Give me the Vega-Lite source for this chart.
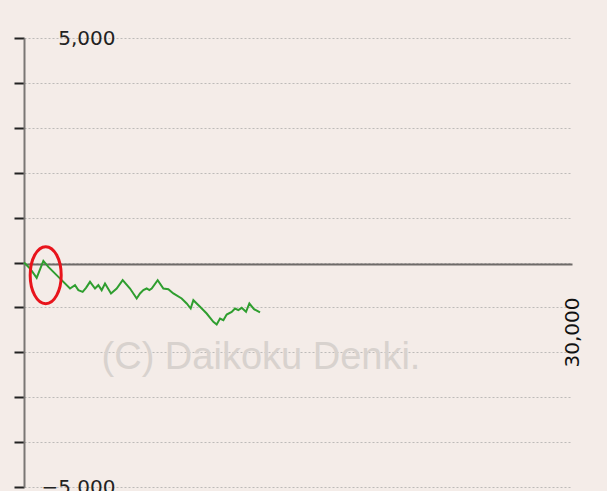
{
  "$schema": "https://vega.github.io/schema/vega-lite/v6.json",
  "autosize": {"type": "none"},
  "padding": {"left": 24, "top": 38, "right": 35, "bottom": 4},
  "width": 548,
  "height": 449,
  "background": "#f4ece8",
  "config": {
    "view": {"stroke": null},
    "font": "DejaVu Sans"
  },
  "datasets": {
    "series": [
      {"game": 0, "diff": 0},
      {"game": 329, "diff": -134},
      {"game": 694, "diff": -342},
      {"game": 1059, "diff": 37},
      {"game": 1332, "diff": -97},
      {"game": 1606, "diff": -208},
      {"game": 2062, "diff": -393},
      {"game": 2519, "diff": -579},
      {"game": 2792, "diff": -505},
      {"game": 2975, "diff": -616},
      {"game": 3212, "diff": -653},
      {"game": 3395, "diff": -564},
      {"game": 3614, "diff": -431},
      {"game": 3887, "diff": -579},
      {"game": 4070, "diff": -505},
      {"game": 4252, "diff": -616},
      {"game": 4435, "diff": -468},
      {"game": 4763, "diff": -690},
      {"game": 5074, "diff": -579},
      {"game": 5402, "diff": -393},
      {"game": 5804, "diff": -579},
      {"game": 6169, "diff": -802},
      {"game": 6351, "diff": -690},
      {"game": 6534, "diff": -616},
      {"game": 6716, "diff": -579},
      {"game": 6862, "diff": -616},
      {"game": 6990, "diff": -579},
      {"game": 7318, "diff": -393},
      {"game": 7629, "diff": -579},
      {"game": 7902, "diff": -594},
      {"game": 8176, "diff": -690},
      {"game": 8632, "diff": -802},
      {"game": 8906, "diff": -913},
      {"game": 9125, "diff": -1025},
      {"game": 9271, "diff": -839},
      {"game": 9636, "diff": -987},
      {"game": 10001, "diff": -1136},
      {"game": 10366, "diff": -1321},
      {"game": 10549, "diff": -1381},
      {"game": 10731, "diff": -1247},
      {"game": 10914, "diff": -1284},
      {"game": 11096, "diff": -1158},
      {"game": 11370, "diff": -1099},
      {"game": 11552, "diff": -1025},
      {"game": 11735, "diff": -1062},
      {"game": 11917, "diff": -1010},
      {"game": 12155, "diff": -1099},
      {"game": 12337, "diff": -913},
      {"game": 12593, "diff": -1039},
      {"game": 12921, "diff": -1113}
    ],
    "watermark": [{"game": 12974, "diff": -2361, "text": "(C) Daikoku Denki."}],
    "highlight": [{"game": 1188, "diff": -283}]
  },
  "encoding": {
    "x": {
      "field": "game",
      "type": "quantitative",
      "scale": {"domain": [0, 30000], "nice": false, "zero": false},
      "axis": {
        "orient": "bottom",
        "offset": -223,
        "values": [30000],
        "format": ",d",
        "title": null,
        "grid": false,
        "ticks": false,
        "domain": true,
        "domainColor": "#6e6a68",
        "domainWidth": 2,
        "labelAngle": 270,
        "labelAlign": "right",
        "labelBaseline": "middle",
        "labelPadding": 33,
        "labelFontSize": 20,
        "labelColor": "#111111",
        "labelFont": "DejaVu Sans"
      }
    },
    "y": {
      "field": "diff",
      "type": "quantitative",
      "scale": {"domain": [-5000, 5000], "nice": false},
      "axis": {
        "orient": "left",
        "values": [-5000, -4000, -3000, -2000, -1000, 0, 1000, 2000, 3000, 4000, 5000],
        "format": ",d",
        "labelExpr": "datum.value == 5000 || datum.value == -5000 ? datum.label : ''",
        "title": null,
        "grid": true,
        "gridColor": "#bdbab8",
        "gridDash": [2, 2],
        "gridWidth": 1,
        "domainColor": "#7a7674",
        "domainWidth": 2,
        "tickColor": "#222222",
        "tickWidth": 2,
        "tickSize": 10,
        "labelAlign": "right",
        "labelBaseline": "middle",
        "labelPadding": -101,
        "labelFontSize": 20,
        "labelColor": "#222222",
        "labelFont": "DejaVu Sans"
      }
    }
  },
  "layer": [
    {
      "data": {"name": "watermark"},
      "mark": {"type": "text", "font": "Liberation Sans", "fontSize": 38, "color": "#d8d2ce", "align": "center", "baseline": "alphabetic"},
      "encoding": {"text": {"field": "text"}}
    },
    {
      "data": {"name": "series"},
      "mark": {"type": "line", "color": "#2f9e2f", "strokeWidth": 2},
      "encoding": {}
    },
    {
      "data": {"name": "highlight"},
      "mark": {
        "type": "point",
        "shape": "M -0.544 0 A 0.544 1 0 1 0 0.544 0 A 0.544 1 0 1 0 -0.544 0 Z",
        "size": 3249,
        "filled": false,
        "stroke": "#e8141c",
        "strokeWidth": 3,
        "opacity": 1
      },
      "encoding": {}
    }
  ]
}
